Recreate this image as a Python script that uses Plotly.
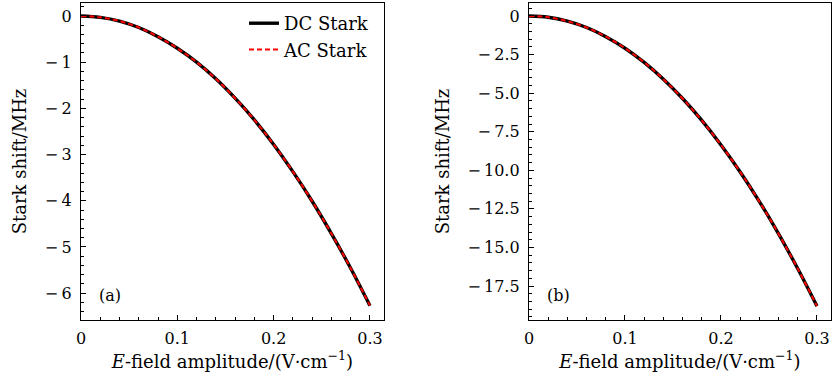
import plotly.graph_objects as go
from plotly.subplots import make_subplots

# Data
field = [0.00, 0.02, 0.04, 0.06, 0.08, 0.10, 0.12, 0.14, 0.16, 0.18,
         0.20, 0.22, 0.24, 0.26, 0.28, 0.30]
dc_shift_a = [0.00, -0.03, -0.11, -0.25, -0.45, -0.70, -1.00, -1.36, -1.78,
              -2.25, -2.78, -3.37, -4.01, -4.71, -5.46, -6.27]
ac_shift_a = [0.00, -0.03, -0.11, -0.25, -0.45, -0.70, -1.00, -1.36, -1.78,
              -2.25, -2.78, -3.37, -4.01, -4.71, -5.46, -6.27]
dc_shift_b = [0.00, -0.08, -0.34, -0.75, -1.34, -2.09, -3.01, -4.10, -5.35,
              -6.77, -8.36, -10.11, -12.03, -14.12, -16.38, -18.80]
ac_shift_b = [0.00, -0.08, -0.34, -0.75, -1.34, -2.09, -3.01, -4.10, -5.35,
              -6.77, -8.36, -10.11, -12.03, -14.12, -16.38, -18.80]

x_tickvals = [0, 0.1, 0.2, 0.3]
x_ticktext = ["0", "0.1", "0.2", "0.3"]
ya_tickvals = [0, -1, -2, -3, -4, -5, -6]
ya_ticktext = ["0", "\u2212\u20091", "\u2212\u20092", "\u2212\u20093", "\u2212\u20094", "\u2212\u20095", "\u2212\u20096"]
yb_tickvals = [0, -2.5, -5, -7.5, -10, -12.5, -15, -17.5]
yb_ticktext = ["0", "\u2212\u20092.5", "\u2212\u20095.0", "\u2212\u20097.5", "\u2212\u200910.0",
               "\u2212\u200912.5", "\u2212\u200915.0", "\u2212\u200917.5"]

FONT = "DejaVu Serif"
FS_TICK = 16
FS_TEXT = 18

fig = make_subplots(rows=1, cols=2)

for col, dc, ac in [(1, dc_shift_a, ac_shift_a), (2, dc_shift_b, ac_shift_b)]:
    fig.add_trace(go.Scatter(x=field, y=dc, mode="lines", name="DC Stark",
                             line=dict(color="black", width=3.4, shape="spline"),
                             showlegend=(col == 1), legendgroup="dc"), row=1, col=col)
    fig.add_trace(go.Scatter(x=field, y=ac, mode="lines", name="AC Stark",
                             line=dict(color="#ff0000", width=2, dash="5px,3px", shape="spline"),
                             showlegend=(col == 1), legendgroup="ac"), row=1, col=col)

axis_common = dict(showline=True, linecolor="black", linewidth=1.3, mirror=True,
                   ticks="inside", ticklen=5, tickwidth=1, tickcolor="black",
                   showgrid=False, zeroline=False, automargin=False,
                   tickfont=dict(family=FONT, size=FS_TICK, color="black"))

xt = dict(text="<i>E</i>-field amplitude/(V\u00b7cm<sup>\u22121</sup>)",
          font=dict(family=FONT, size=FS_TEXT, color="black"), standoff=6)

fig.update_xaxes(**axis_common, range=[0, 0.3146], tickvals=x_tickvals, ticktext=x_ticktext,
                 minor=dict(ticks="inside", ticklen=3, dtick=0.02, tickcolor="black"),
                 ticklabelstandoff=4, title=xt)
fig.update_xaxes(domain=[81/832, 384/832], row=1, col=1)
fig.update_xaxes(domain=[529/832, 831/832], row=1, col=2)

yt = dict(text="Stark shift/MHz", font=dict(family=FONT, size=FS_TEXT, color="black"))
fig.update_yaxes(**axis_common, domain=[61/381, 378/381], ticklabelstandoff=5)
fig.update_yaxes(range=[-6.58, 0.28], tickvals=ya_tickvals, ticktext=ya_ticktext,
                 minor=dict(ticks="inside", ticklen=3, dtick=0.2, tickcolor="black"),
                 title=dict(yt, standoff=13), row=1, col=1)
fig.update_yaxes(range=[-19.7, 0.84], tickvals=yb_tickvals, ticktext=yb_ticktext,
                 minor=dict(ticks="inside", ticklen=3, dtick=0.5, tickcolor="black"),
                 title=dict(yt, standoff=13), row=1, col=2)

fig.add_annotation(text="(a)", xref="x", yref="y", x=0.017, y=-6.04, showarrow=False,
                   xanchor="left", font=dict(family=FONT, size=FS_TICK, color="black"))
fig.add_annotation(text="(b)", xref="x2", yref="y2", x=0.017, y=-18.12, showarrow=False,
                   xanchor="left", font=dict(family=FONT, size=FS_TICK, color="black"))

fig.update_layout(width=832, height=381, margin=dict(l=0, r=0, t=0, b=0),
                  plot_bgcolor="white", paper_bgcolor="white",
                  legend=dict(x=244/832, y=376/381, xanchor="left", yanchor="top",
                              bgcolor="rgba(0,0,0,0)", font=dict(family=FONT, size=FS_TEXT, color="black"),
                              itemwidth=30, tracegroupgap=0),
                  showlegend=True)

fig.write_html("out.html", config={"displayModeBar": False},
               post_script="document.body.style.margin='0';")
